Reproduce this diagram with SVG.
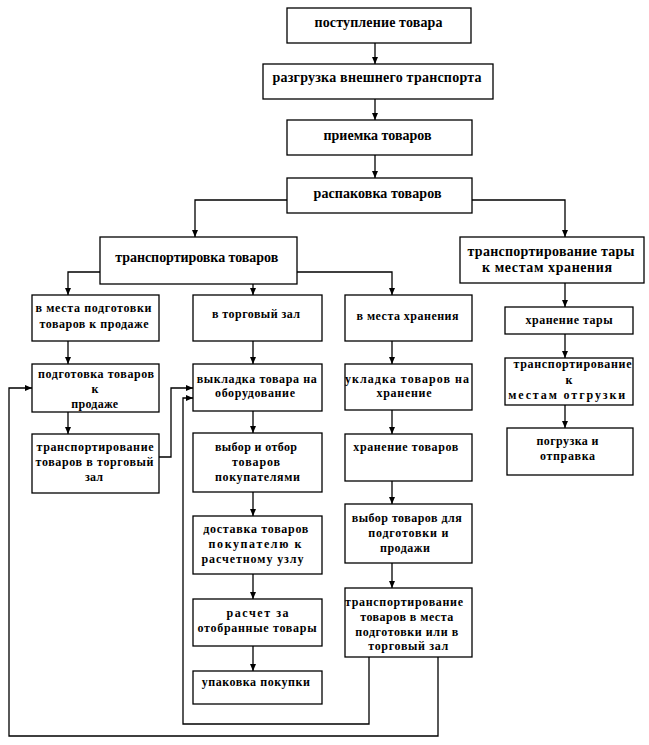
<svg xmlns="http://www.w3.org/2000/svg" width="649" height="745" viewBox="0 0 649 745">
<style>
.box{fill:#fff;stroke:#000;stroke-width:1.3}
.t{font-family:"Liberation Serif","Times New Roman",serif;font-weight:bold;font-size:12px;text-anchor:middle;fill:#000}
.big{font-size:14px}
.c{fill:none;stroke:#000;stroke-width:1.3;marker-end:url(#ah)}
</style>
<defs>
<marker id="ah" markerUnits="userSpaceOnUse" markerWidth="8" markerHeight="7" refX="7" refY="3.5" orient="auto">
<path d="M0,0.5 L7,3.5 L0,6.5 z" fill="#000"/>
</marker>
</defs>
<rect width="649" height="745" fill="#fff"/>
<g id="connectors">
<path class="c" d="M375,43 V64"/>
<path class="c" d="M375,99 V120"/>
<path class="c" d="M375,155 V178"/>
<path class="c" d="M287,200 H195 V237"/>
<path class="c" d="M472,200 H565 V237"/>
<path class="c" d="M100,272 H68 V295"/>
<path class="c" d="M253,284 V295"/>
<path class="c" d="M297,272 H392 V295"/>
<path class="c" d="M565,283 V307"/>
<path class="c" d="M565,334 V358"/>
<path class="c" d="M565,405 V428"/>
<path class="c" d="M68,341 V364"/>
<path class="c" d="M68,412 V434"/>
<path class="c" d="M159,457 H171 V388 H193"/>
<path class="c" d="M253,341 V364"/>
<path class="c" d="M253,411 V433"/>
<path class="c" d="M253,492 V516"/>
<path class="c" d="M253,574 V599"/>
<path class="c" d="M253,646 V671"/>
<path class="c" d="M392,341 V364"/>
<path class="c" d="M392,410 V434"/>
<path class="c" d="M392,481 V504"/>
<path class="c" d="M392,563 V588"/>
<path class="c" d="M369,657 V724 H183 V398 H193"/>
<path class="c" d="M438,657 V736 H9 V388 H32"/>
</g>
<g id="n1"><rect class="box" x="287" y="8" width="184" height="35"/><text class="t big" x="378.5" y="26.5" textLength="128">поступление товара</text></g>
<g id="n2"><rect class="box" x="263" y="64" width="230" height="35"/><text class="t big" x="377" y="82" textLength="209">разгрузка внешнего транспорта</text></g>
<g id="n3"><rect class="box" x="287" y="120" width="185" height="35"/><text class="t big" x="377.5" y="140" textLength="108">приемка товаров</text></g>
<g id="n4"><rect class="box" x="287" y="178" width="185" height="35"/><text class="t big" x="377.5" y="198" textLength="128">распаковка товаров</text></g>
<g id="n5"><rect class="box" x="100" y="237" width="197" height="47"/><text class="t big" x="196.7" y="262" textLength="163">транспортировка товаров</text></g>
<g id="n6"><rect class="box" x="460" y="237" width="184" height="46"/><text class="t big" x="551" y="256" textLength="167">транспортирование тары</text><text class="t big" x="547" y="272" textLength="130">к местам хранения</text></g>
<g id="n7"><rect class="box" x="32" y="295" width="127" height="46"/><text class="t" x="93.5" y="311.5" textLength="116">в места подготовки</text><text class="t" x="94" y="328" textLength="109">товаров к продаже</text></g>
<g id="n8"><rect class="box" x="193" y="295" width="129" height="46"/><text class="t" x="256" y="318" textLength="88">в торговый зал</text></g>
<g id="n9"><rect class="box" x="345" y="295" width="127" height="46"/><text class="t" x="407.5" y="319.5" textLength="102">в места хранения</text></g>
<g id="n10"><rect class="box" x="505" y="307" width="128" height="27"/><text class="t" x="569" y="324" textLength="87">хранение тары</text></g>
<g id="n11"><rect class="box" x="32" y="364" width="127" height="48"/><text class="t" x="96" y="377.5" textLength="116">подготовка товаров</text><text class="t" x="95" y="392.5">к</text><text class="t" x="94.7" y="407.5" textLength="47">продаже</text></g>
<g id="n12"><rect class="box" x="193" y="364" width="129" height="47"/><text class="t" x="256.7" y="383" textLength="120">выкладка товара на</text><text class="t" x="255" y="396.5" textLength="80">оборудование</text></g>
<g id="n13"><rect class="box" x="345" y="364" width="127" height="46"/><text class="t" x="407" y="383" textLength="124">укладка товаров на</text><text class="t" x="404" y="396.5" textLength="55">хранение</text></g>
<g id="n14"><rect class="box" x="505" y="358" width="128" height="47"/><text class="t" x="572.5" y="367.5" textLength="118">транспортирование</text><text class="t" x="569" y="384">к</text><text class="t" x="566.7" y="399" textLength="117">местам отгрузки</text></g>
<g id="n15"><rect class="box" x="32" y="434" width="127" height="59"/><text class="t" x="95" y="451" textLength="117">транспортирование</text><text class="t" x="94.5" y="466" textLength="118">товаров в торговый</text><text class="t" x="94" y="481" textLength="18">зал</text></g>
<g id="n16"><rect class="box" x="193" y="433" width="129" height="59"/><text class="t" x="256" y="450.5" textLength="82">выбор и отбор</text><text class="t" x="256" y="465.5" textLength="48">товаров</text><text class="t" x="257.5" y="480.5" textLength="85">покупателями</text></g>
<g id="n17"><rect class="box" x="345" y="434" width="127" height="47"/><text class="t" x="405.8" y="450.5" textLength="105">хранение товаров</text></g>
<g id="n18"><rect class="box" x="507" y="428" width="126" height="47"/><text class="t" x="567.5" y="444.5" textLength="62">погрузка и</text><text class="t" x="567.5" y="460" textLength="55">отправка</text></g>
<g id="n19"><rect class="box" x="193" y="516" width="129" height="58"/><text class="t" x="255.8" y="533" textLength="105">доставка товаров</text><text class="t" x="255" y="548" textLength="93">покупателю к</text><text class="t" x="252.5" y="562.5" textLength="102">расчетному узлу</text></g>
<g id="n20"><rect class="box" x="345" y="504" width="127" height="59"/><text class="t" x="406.7" y="522" textLength="110">выбор товаров для</text><text class="t" x="408.3" y="536.5" textLength="80">подготовки и</text><text class="t" x="405" y="552" textLength="50">продажи</text></g>
<g id="n21"><rect class="box" x="193" y="599" width="129" height="47"/><text class="t" x="257.5" y="617" textLength="62">расчет за</text><text class="t" x="257" y="632" textLength="119">отобранные товары</text></g>
<g id="n22"><rect class="box" x="345" y="588" width="127" height="69"/><text class="t" x="404" y="605.5" textLength="118">транспортирование</text><text class="t" x="406.7" y="620.5" textLength="93">товаров в места</text><text class="t" x="406.7" y="635.5" textLength="103">подготовки или в</text><text class="t" x="408.3" y="650" textLength="80">торговый зал</text></g>
<g id="n23"><rect class="box" x="193" y="671" width="129" height="33"/><text class="t" x="255.8" y="685.5" textLength="108">упаковка покупки</text></g>
</svg>
